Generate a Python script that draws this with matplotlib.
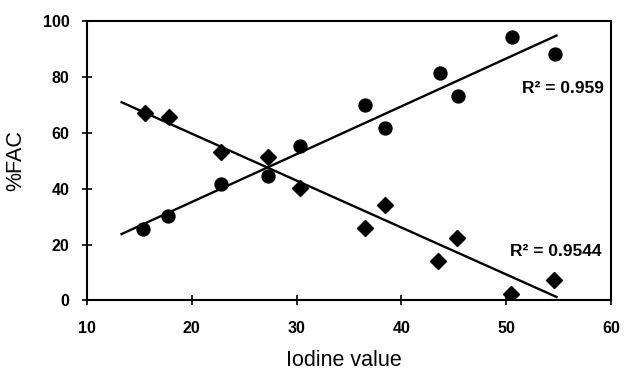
import matplotlib.pyplot as plt
import numpy as np

# iodine value vs %FAC, two series
iv_circ = [15.3, 17.7, 22.8, 27.3, 30.3, 36.5, 38.4, 43.7, 45.4, 50.6, 54.7]
fac_circ = [25.6, 30.4, 41.7, 44.6, 55.1, 69.9, 61.7, 81.5, 73.2, 94.2, 88.1]
iv_diam = [15.5, 17.8, 22.8, 27.3, 30.3, 36.5, 38.4, 43.5, 45.3, 50.5, 54.6]
fac_diam = [67.0, 65.8, 53.0, 51.2, 40.2, 25.8, 34.3, 14.3, 22.4, 2.4, 7.4]
r2_labels = ['R² = 0.959', 'R² = 0.9544']

xticks = [10, 20, 30, 40, 50, 60]
yticks = [0, 20, 40, 60, 80, 100]

plt.rcParams['font.family'] = ['Liberation Sans', 'DejaVu Sans']

fig = plt.figure(figsize=(6.24, 3.73), dpi=100)
ax = fig.add_axes([0.1394, 0.1944, 0.8397, 0.7493])

xfit = np.array([13.3, 54.8])
for x, y, mk in [(iv_circ, fac_circ, 'o'), (iv_diam, fac_diam, 'D')]:
    p = np.polyfit(x, y, 1)
    ax.plot(xfit, np.polyval(p, xfit), color='black', lw=1.7)
    ax.plot(x, y, mk, color='black', ms=9.3 if mk == 'o' else 8.3, ls='none')

ax.text(59.33, 75.7, r2_labels[0], ha='right', va='center', fontsize=12.5,
        fontweight='bold')
ax.text(59.05, 17.4, r2_labels[1], ha='right', va='center', fontsize=12.5,
        fontweight='bold')

ax.set_xlim(10, 60)
ax.set_ylim(0, 100)
ax.set_xticks(xticks)
ax.set_yticks(yticks)
ax.tick_params(axis='x', direction='inout', length=7, width=1.2, labelsize=11.5, pad=11)
ax.tick_params(axis='y', direction='inout', length=7, width=1.2, labelsize=11.5, pad=9)
for lab in ax.get_xticklabels() + ax.get_yticklabels():
    lab.set_fontweight('bold')
for s in ax.spines.values():
    s.set_linewidth(1.5)

ax.set_xlabel('Iodine value', fontsize=15.5, va='center')
ax.set_ylabel('%FAC', fontsize=15.5, va='center')
ax.xaxis.set_label_coords(0.49, -0.2147)
ax.yaxis.set_label_coords(-0.1355, 0.5)

fig.savefig('out.png', dpi=100)
